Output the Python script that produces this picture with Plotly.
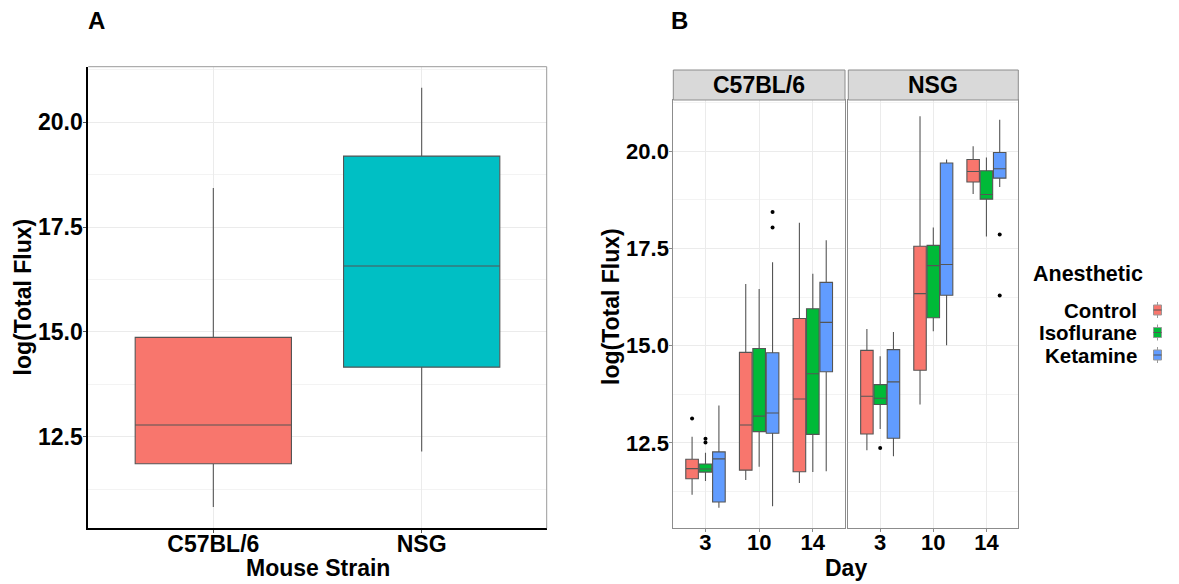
import plotly.graph_objects as go

# ---------------- data ----------------
# Panel A: log(Total Flux) by mouse strain
strains = ["C57BL/6", "NSG"]
a_low = [10.83, 12.15]
a_q1 = [11.86, 14.16]
a_med = [12.78, 16.57]
a_q3 = [14.87, 19.19]
a_high = [18.43, 20.82]

# Panel B: by day, anesthetic, facet = strain
days = ["3", "10", "14"]
anesthetics = ["Control", "Isoflurane", "Ketamine"]

# rows: Control, Isoflurane, Ketamine ; columns: day 3, 10, 14
c57_low = [[11.17, 11.55, 11.47], [11.52, 11.89, 11.75], [10.83, 10.87, 11.77]]
c57_q1 = [[11.58, 11.80, 11.76], [11.75, 12.79, 12.72], [10.98, 12.75, 14.33]]
c57_med = [[11.84, 12.96, 13.63], [11.83, 13.19, 14.28], [12.09, 13.27, 15.60]]
c57_q3 = [[12.08, 14.83, 15.70], [11.96, 14.93, 15.95], [12.27, 14.82, 16.63]]
c57_high = [[12.66, 16.59, 18.16], [12.25, 16.46, 16.85], [13.46, 17.15, 17.71]]
c57_out_group = ["Control", "Isoflurane", "Isoflurane", "Ketamine", "Ketamine"]
c57_out_day = ["3", "3", "3", "10", "10"]
c57_out_value = [13.13, 12.61, 12.51, 18.44, 18.04]

nsg_low = [[12.31, 13.49, 18.90], [12.86, 15.37, 17.81], [12.16, 15.01, 19.08]]
nsg_q1 = [[12.73, 14.37, 19.21], [13.49, 15.72, 18.77], [12.62, 16.30, 19.31]]
nsg_med = [[13.70, 16.34, 19.48], [13.65, 17.06, 18.89], [14.07, 17.09, 19.55]]
nsg_q3 = [[14.88, 17.56, 19.79], [14.00, 17.58, 19.50], [14.90, 19.70, 19.97]]
nsg_high = [[15.43, 20.90, 20.13], [14.73, 18.04, 19.84], [15.35, 19.79, 20.81]]
nsg_out_group = ["Isoflurane", "Ketamine", "Ketamine"]
nsg_out_day = ["3", "14", "14"]
nsg_out_value = [12.37, 17.86, 16.29]

y_tickvals = [12.5, 15.0, 17.5, 20.0]
y_ticktext = ["12.5", "15.0", "17.5", "20.0"]
y_minor = [11.25, 13.75, 16.25, 18.75, 21.25]

# ---------------- style ----------------
W, H = 1179, 584
FONT = "Liberation Sans, Arial, sans-serif"
strain_colors = ["#F8766D", "#00BFC4"]
anes_colors = ["#F8766D", "#00BA38", "#619CFF"]
BOX_LINE = "#555555"
GRID = "#EBEBEB"
MINOR = "#F3F3F3"
BORDER = "#8C8C8C"
offsets = [-0.25, 0.0, 0.25]
y_range = [10.32, 21.32]


def px(x):
    return x / W


def py(y):
    return 1 - y / H


fig = go.Figure()

# Panel A boxes
for i, s in enumerate(strains):
    fig.add_trace(go.Box(
        x=[s], q1=[a_q1[i]], median=[a_med[i]], q3=[a_q3[i]],
        lowerfence=[a_low[i]], upperfence=[a_high[i]],
        width=0.75, fillcolor=strain_colors[i],
        line=dict(color=BOX_LINE, width=1.1), whiskerwidth=0,
        boxpoints=False, showlegend=False, hoverinfo="skip",
        xaxis="x", yaxis="y"))

# Panel B boxes
facets = [
    ("x2", "y2", c57_low, c57_q1, c57_med, c57_q3, c57_high,
     c57_out_group, c57_out_day, c57_out_value),
    ("x3", "y3", nsg_low, nsg_q1, nsg_med, nsg_q3, nsg_high,
     nsg_out_group, nsg_out_day, nsg_out_value),
]
for xa, ya, lo, q1, md, q3, hi, og, od, ov in facets:
    for g, name in enumerate(anesthetics):
        fig.add_trace(go.Box(
            x=[d + offsets[g] for d in range(len(days))],
            q1=q1[g], median=md[g], q3=q3[g],
            lowerfence=lo[g], upperfence=hi[g],
            width=0.235, fillcolor=anes_colors[g],
            line=dict(color=BOX_LINE, width=1.1), whiskerwidth=0,
            boxpoints=False, showlegend=False, hoverinfo="skip",
            xaxis=xa, yaxis=ya))
    fig.add_trace(go.Scatter(
        x=[days.index(d) + offsets[anesthetics.index(a)] for a, d in zip(og, od)],
        y=ov, mode="markers",
        marker=dict(color="black", size=4),
        showlegend=False, hoverinfo="skip", xaxis=xa, yaxis=ya))

tickfont_a = dict(family=FONT, size=23, color="black", weight="bold")
tickfont_b = dict(family=FONT, size=22, color="black", weight="bold")

fig.update_layout(
    width=W, height=H,
    margin=dict(l=0, r=0, t=0, b=0),
    paper_bgcolor="white", plot_bgcolor="white",
    font=dict(family=FONT, color="black"),
    showlegend=False,
    xaxis=dict(
        domain=[px(88.3), px(546.7)], anchor="y", type="category",
        range=[-0.6, 1.6], showgrid=True, gridcolor=GRID, gridwidth=1,
        showline=True, linecolor="black", linewidth=2,
        ticks="outside", ticklen=3, tickcolor="#555555", ticklabelstandoff=-9,
        tickfont=tickfont_a, zeroline=False, fixedrange=True),
    yaxis=dict(
        domain=[py(528.3), py(66.7)], anchor="x", range=y_range,
        tickvals=y_tickvals, ticktext=y_ticktext,
        showgrid=True, gridcolor=GRID, gridwidth=1,
        minor=dict(tickvals=y_minor, showgrid=True, gridcolor=MINOR, gridwidth=1, ticks=""),
        showline=True, linecolor="black", linewidth=2,
        ticks="outside", ticklen=3, tickcolor="#555555", ticklabelstandoff=-4,
        tickfont=tickfont_a, zeroline=False, fixedrange=True),
    xaxis2=dict(
        domain=[px(673.3), px(845.0)], anchor="y2",
        range=[-0.6, 2.6], tickvals=list(range(len(days))), ticktext=days,
        showgrid=True, gridcolor=GRID, gridwidth=1,
        showline=True, mirror=True, linecolor=BORDER, linewidth=1,
        ticks="outside", ticklen=3, tickcolor=BORDER, ticklabelstandoff=-8,
        tickfont=tickfont_b, zeroline=False, fixedrange=True),
    yaxis2=dict(
        domain=[py(527.7), py(100)], anchor="x2", range=y_range,
        tickvals=y_tickvals, ticktext=y_ticktext,
        showgrid=True, gridcolor=GRID, gridwidth=1,
        minor=dict(tickvals=y_minor, showgrid=True, gridcolor=MINOR, gridwidth=1, ticks=""),
        showline=True, mirror=True, linecolor=BORDER, linewidth=1,
        ticks="outside", ticklen=3, tickcolor=BORDER, ticklabelstandoff=-4,
        tickfont=tickfont_b, zeroline=False, fixedrange=True),
    xaxis3=dict(
        domain=[px(848.3), px(1018.3)], anchor="y3",
        range=[-0.6, 2.6], tickvals=list(range(len(days))), ticktext=days,
        showgrid=True, gridcolor=GRID, gridwidth=1,
        showline=True, mirror=True, linecolor=BORDER, linewidth=1,
        ticks="outside", ticklen=3, tickcolor=BORDER, ticklabelstandoff=-8,
        tickfont=tickfont_b, zeroline=False, fixedrange=True),
    yaxis3=dict(
        domain=[py(527.7), py(100)], anchor="x3", range=y_range,
        tickvals=y_tickvals, showticklabels=False,
        showgrid=True, gridcolor=GRID, gridwidth=1,
        minor=dict(tickvals=y_minor, showgrid=True, gridcolor=MINOR, gridwidth=1, ticks=""),
        showline=True, mirror=True, linecolor=BORDER, linewidth=1,
        ticks="", zeroline=False, fixedrange=True),
)

shapes = []
# Panel A: gray top/right border
shapes.append(dict(type="line", xref="x domain", yref="y domain", x0=0, x1=1, y0=1, y1=1,
                   line=dict(color="#9A9A9A", width=1), layer="above"))
shapes.append(dict(type="line", xref="x domain", yref="y domain", x0=1, x1=1, y0=0, y1=1,
                   line=dict(color="#9A9A9A", width=1), layer="above"))
# Facet strips
strip_x = [(673.3, 845.0), (848.3, 1018.3)]
for x0, x1 in strip_x:
    shapes.append(dict(type="rect", xref="paper", yref="paper",
                       x0=px(x0), x1=px(x1), y0=py(100), y1=py(70),
                       fillcolor="#D9D9D9", line=dict(color=BORDER, width=1)))

annotations = []
strip_labels = ["C57BL/6", "NSG"]
for (x0, x1), lab in zip(strip_x, strip_labels):
    annotations.append(dict(xref="paper", yref="paper", x=px((x0 + x1) / 2), y=py(85),
                            text=lab, showarrow=False, xanchor="center", yanchor="middle",
                            font=dict(family=FONT, size=23, color="black", weight="bold")))

# Panel labels
annotations.append(dict(xref="paper", yref="paper", x=px(96.5), y=py(20.5), text="A",
                        showarrow=False, xanchor="center", yanchor="middle",
                        font=dict(family=FONT, size=24, color="black", weight="bold")))
annotations.append(dict(xref="paper", yref="paper", x=px(679), y=py(20.5), text="B",
                        showarrow=False, xanchor="center", yanchor="middle",
                        font=dict(family=FONT, size=24, color="black", weight="bold")))

title_font = dict(family=FONT, size=23, color="black", weight="bold")
# Axis titles
annotations.append(dict(xref="paper", yref="paper", x=px(317.5), y=py(567.5), text="Mouse Strain",
                        showarrow=False, xanchor="center", yanchor="middle", font=title_font))
annotations.append(dict(xref="paper", yref="paper", x=px(845.7), y=py(568), text="Day",
                        showarrow=False, xanchor="center", yanchor="middle", font=title_font))
annotations.append(dict(xref="paper", yref="paper", x=px(22), y=py(297.5), text="log(Total Flux)",
                        textangle=-90, showarrow=False, xanchor="center", yanchor="middle",
                        font=title_font))
annotations.append(dict(xref="paper", yref="paper", x=px(611), y=py(307), text="log(Total Flux)",
                        textangle=-90, showarrow=False, xanchor="center", yanchor="middle",
                        font=title_font))

# Legend (manual, ggplot-style: labels right-aligned, keys on the right)
annotations.append(dict(xref="paper", yref="paper", x=px(1031), y=py(274), text="Anesthetic",
                        showarrow=False, xanchor="left", yanchor="middle",
                        font=dict(family=FONT, size=21.5, color="black", weight="bold")))
legend_y = [310, 332.5, 355]
for g, name in enumerate(anesthetics):
    cy = legend_y[g]
    annotations.append(dict(xref="paper", yref="paper", x=px(1139), y=py(cy), text=name,
                            showarrow=False, xanchor="right", yanchor="middle",
                            font=dict(family=FONT, size=20.5, color="black", weight="bold")))
    shapes.append(dict(type="line", xref="paper", yref="paper",
                       x0=px(1157.5), x1=px(1157.5), y0=py(cy - 8), y1=py(cy + 8),
                       line=dict(color="#999999", width=1)))
    shapes.append(dict(type="rect", xref="paper", yref="paper",
                       x0=px(1153.5), x1=px(1161.5), y0=py(cy + 5), y1=py(cy - 5),
                       fillcolor=anes_colors[g], line=dict(color="#999999", width=1)))
    shapes.append(dict(type="line", xref="paper", yref="paper",
                       x0=px(1153.5), x1=px(1161.5), y0=py(cy), y1=py(cy),
                       line=dict(color="#555555", width=1)))

fig.update_layout(shapes=shapes, annotations=annotations)

fig.write_html("out.html", config={"displayModeBar": False},
               post_script="document.body.style.margin='0';")
